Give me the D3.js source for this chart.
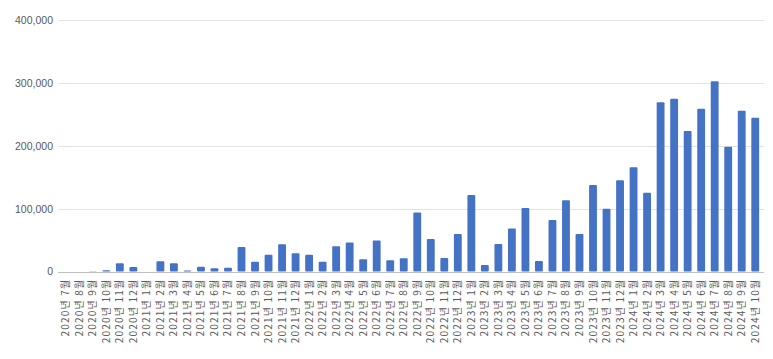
<!DOCTYPE html>
<html><head><meta charset="utf-8">
<script src="https://cdn.jsdelivr.net/npm/d3@7"></script>
<style>
html,body{margin:0;padding:0;background:#fff;}
svg{display:block;}
</style></head>
<body>
<svg id="chart" width="773" height="359"></svg>
<script>
const categories = [
  "2020년 7월","2020년 8월","2020년 9월","2020년 10월","2020년 11월","2020년 12월",
  "2021년 1월","2021년 2월","2021년 3월","2021년 4월","2021년 5월","2021년 6월",
  "2021년 7월","2021년 8월","2021년 9월","2021년 10월","2021년 11월","2021년 12월",
  "2022년 1월","2022년 2월","2022년 3월","2022년 4월","2022년 5월","2022년 6월",
  "2022년 7월","2022년 8월","2022년 9월","2022년 10월","2022년 11월","2022년 12월",
  "2023년 1월","2023년 2월","2023년 3월","2023년 4월","2023년 5월","2023년 6월",
  "2023년 7월","2023년 8월","2023년 9월","2023년 10월","2023년 11월","2023년 12월",
  "2024년 1월","2024년 2월","2024년 3월","2024년 4월","2024년 5월","2024년 6월",
  "2024년 7월","2024년 8월","2024년 9월","2024년 10월"
];
const values = [
  0, 0, 500, 2000, 13000, 7000,
  0, 16500, 13000, 1500, 7500, 5000,
  6000, 39000, 15500, 26600, 43500, 29000,
  26600, 15500, 40000, 46300, 19600, 49500,
  18000, 21000, 93700, 51600, 21600, 59500,
  121600, 10500, 43700, 68400, 101000, 16800,
  82100, 113200, 59600, 137500, 100000, 145000,
  166000, 125400, 269000, 274600, 223300, 258700,
  302700, 198400, 255600, 244400
];
const yTicks = [0, 100000, 200000, 300000, 400000];

const svg = d3.select("#chart");
const mLeft = 59, mRight = 762, mTop = 20, mBottom = 271.5;

const x = d3.scaleBand().domain(categories).range([mLeft, mRight]).paddingInner(0.42).paddingOuter(0.21);
const y = d3.scaleLinear().domain([0, 400000]).range([mBottom, mTop]);

// gridlines
svg.append("g").selectAll("line").data(yTicks.filter(d => d > 0)).join("line")
  .attr("x1", mLeft - 1).attr("x2", mRight + 2)
  .attr("y1", d => Math.round(y(d)) + 0.5).attr("y2", d => Math.round(y(d)) + 0.5)
  .attr("stroke", "#e3e3e3").attr("stroke-width", 1);

// y labels
const yAxis = d3.axisLeft(y).tickValues(yTicks).tickSize(0).tickPadding(6).tickFormat(d3.format(","));
const gy = svg.append("g").attr("transform", `translate(${mLeft},0)`).call(yAxis);
gy.select(".domain").remove();
gy.selectAll("text").attr("fill", "#595959").style("font-family", "'Liberation Sans', Arial, sans-serif").style("font-size", "10.5px");

// bars
svg.append("g").selectAll("rect").data(values).join("rect")
  .attr("x", (d, i) => x(categories[i]))
  .attr("width", x.bandwidth())
  .attr("y", d => y(d))
  .attr("height", d => mBottom - y(d))
  .attr("rx", 1)
  .attr("fill", "#4472C4");

// baseline
svg.append("line").attr("x1", mLeft - 1).attr("x2", mRight + 2)
  .attr("y1", Math.round(mBottom) + 0.5).attr("y2", Math.round(mBottom) + 0.5)
  .attr("stroke", "#bfbfbf").attr("stroke-width", 1);

// x labels
const xAxis = d3.axisBottom(x).tickSize(0).tickPadding(0);
const gx = svg.append("g").attr("transform", `translate(0,${mBottom})`).call(xAxis);
gx.select(".domain").remove();
gx.selectAll("text")
  .attr("transform", "translate(0,7) rotate(-90)")
  .attr("x", 0).attr("y", 0).attr("dy", "0.35em")
  .attr("text-anchor", "end")
  .attr("fill", "#595959")
  .style("letter-spacing", "1.2px")
  .style("font-family", "'Noto Sans CJK KR', sans-serif")
  .style("font-size", "10px");
</script>
</body></html>
